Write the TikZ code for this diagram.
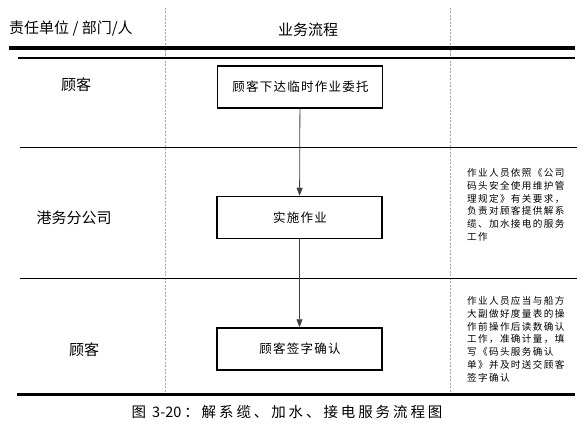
\documentclass[tikz,border=0pt]{standalone}
\usepackage{fontspec}
\newfontfamily\cjk{Noto Sans CJK SC}
\newfontfamily\cjkn[LetterSpace=14]{Noto Sans CJK SC}
\newfontfamily\cjkb[LetterSpace=10]{Noto Sans CJK SC}
\newfontfamily\cjkc[LetterSpace=20]{Noto Sans CJK SC}
\usetikzlibrary{arrows.meta}
\begin{document}
\begin{tikzpicture}[x=1pt,y=-1pt,
  flowbox/.style={draw=black,line width=1.5pt,minimum width=165pt,minimum height=42pt,inner sep=0pt,font=\cjkb\fontsize{12.5}{14}\selectfont},
  lanelabel/.style={inner sep=0pt,font=\cjk\fontsize{15}{17}\selectfont},
  notetext/.style={inner sep=0pt,anchor=north west,align=left,font=\cjkn\fontsize{9.6}{12.7}\selectfont},
  flowarrow/.style={draw=black!75,line width=0.8pt,-{Triangle[length=8pt,width=6pt]}},
  sepline/.style={line width=1pt},
  colline/.style={draw=black!35,line width=0.6pt,dash pattern=on 2pt off 1.5pt}]
\useasboundingbox (0,0) rectangle (588,428);
% column dashed lines
\draw[colline] (165,8) -- (165,395);
\draw[colline] (450,8) -- (450,395);
% header
\node[lanelabel,anchor=west] (h1) at (9,28) {责任单位 / 部门/人};
\node[lanelabel] (h2) at (308,30) {业务流程};
% horizontal lines
\draw[line width=3.2pt] (9,48) -- (575,48);
\draw[line width=1.8pt] (18,58) -- (575,58);
\draw[sepline] (20,147.5) -- (577,147.5);
\draw[sepline] (20,278.5) -- (577,278.5);
\draw[line width=3.8pt] (17,394.5) -- (575,394.5);
% lane labels
\node[lanelabel] (l1) at (76,85) {顾客};
\node[lanelabel] (l2) at (74,218) {港务分公司};
\node[lanelabel] (l3) at (84,350) {顾客};
% boxes
\node[flowbox] (b1) at (300,87) {\hspace{1.2pt}顾客下达临时作业委托};
\node[flowbox] (b2) at (299.5,217.5) {\hspace{1.2pt}实施作业};
\node[flowbox] (b3) at (299.5,349) {\hspace{1.2pt}顾客签字确认};
\draw[flowarrow] (b1) -- (b2);
\draw[flowarrow] (b2) -- (b3);
% notes
\node[notetext] (n1) at (467,168.5) {作业人员依照《公司\\码头安全使用维护管\\理规定》有关要求，\\负责对顾客提供解系\\缆、加水接电的服务\\工作};
\node[notetext] (n2) at (467,296.5) {作业人员应当与船方\\大副做好度量表的操\\作前操作后读数确认\\工作，准确计量，填\\写《码头服务确认\\单》并及时送交顾客\\签字确认};
% caption
\node[inner sep=0pt,font=\cjkc\fontsize{14.5}{16}\selectfont] (cap) at (287,412) {图 {\cjk 3-20}\hspace{2.9pt}：解系缆、加水、接电服务流程图};
\end{tikzpicture}
\end{document}
